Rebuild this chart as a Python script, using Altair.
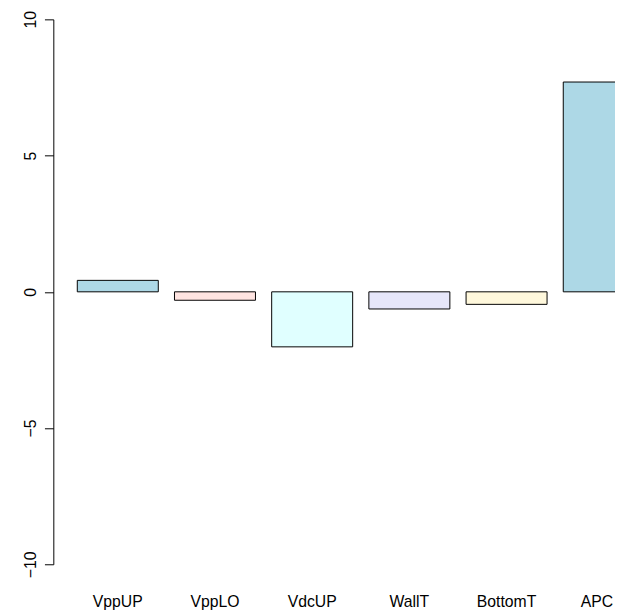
import altair as alt
import pandas as pd

categories = ["VppUP", "VppLO", "VdcUP", "WallT", "BottomT", "APC"]
values = [0.42, -0.31, -2.02, -0.63, -0.46, 7.7]
colors = ["#ADD8E6", "#FFE4E1", "#E0FFFF", "#E6E6FA", "#FFF8DC", "#ADD8E6"]
y_ticks = [-10, -5, 0, 5, 10]

df = pd.DataFrame({"cat": categories, "val": values, "col": colors})

FONT = "Liberation Sans"

x_enc = alt.X(
    "cat:N",
    sort=None,
    scale=alt.Scale(paddingInner=1 / 6, paddingOuter=0.2465, range=[0, 624], round=False),
    axis=alt.Axis(
        title=None,
        domain=False,
        ticks=False,
        tickSize=0,
        labelAngle=0,
        labelFont=FONT,
        labelFontSize=16,
        labelColor="#000000",
        labelBaseline="alphabetic",
        labelPadding=43,
        labelOffset=alt.condition("datum.value == 'APC'", alt.value(-7), alt.value(0)),
    ),
)

y_enc = alt.Y(
    "val:Q",
    scale=alt.Scale(domain=[-10, 10], nice=False, zero=False),
    axis=alt.Axis(
        title=None,
        values=y_ticks,
        grid=False,
        domainColor="#000000",
        domainWidth=1,
        tickColor="#000000",
        tickSize=9,
        tickWidth=1,
        labelAngle=-90,
        labelAlign="center",
        labelBaseline="alphabetic",
        labelPadding=9,
        labelFont=FONT,
        labelFontSize=16,
        labelColor="#000000",
    ),
)

chart = (
    alt.Chart(df)
    .mark_bar(stroke="#000000", strokeWidth=1, clip=True, opacity=1)
    .encode(
        x=x_enc,
        y=y_enc,
        y2=alt.datum(0),
        color=alt.Color("col:N", scale=None, legend=None),
    )
    .properties(
        width=570,
        height=553,
        autosize=alt.AutoSizeParams(type="none"),
        padding={"left": 46, "top": 7, "right": 0, "bottom": 50},
        background="white",
    )
    .configure_view(stroke=None)
)

chart.save("out.html", embed_options={"renderer": "svg", "actions": False})
